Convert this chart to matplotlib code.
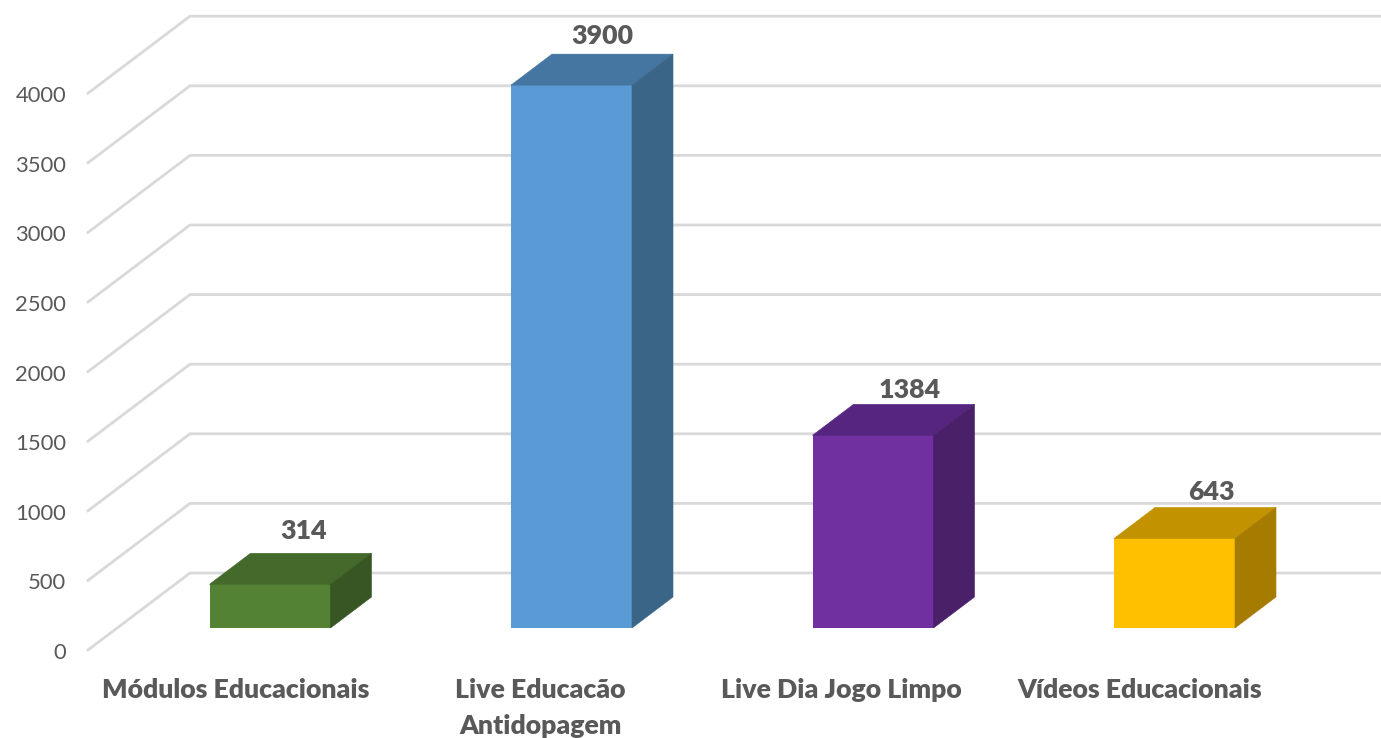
import matplotlib
matplotlib.use("Agg")
import matplotlib.pyplot as plt
from matplotlib.patches import Polygon, Rectangle

categories = ["Módulos Educacionais", "Live Educacão\nAntidopagem", "Live Dia Jogo Limpo", "Vídeos Educacionais"]
values = [314, 3900, 1384, 643]
ticks = [0, 500, 1000, 1500, 2000, 2500, 3000, 3500, 4000]
front_colors = ["#548235", "#5B9BD5", "#7030A0", "#FFC000"]
top_colors = ["#436A2A", "#4575A1", "#552580", "#C29200"]
side_colors = ["#375623", "#3A6587", "#4A2069", "#A67C00"]

W, H = 1381, 738
PX_X = 301.5          # pixels per category
PX_Y = 0.1392         # pixels per value unit
X0, Y0 = 270, 628     # pixel of category 0, value 0

fig = plt.figure(figsize=(W / 100, H / 100), dpi=100)
ax = fig.add_axes([0, 0, 1, 1])
ax.set_xlim(-X0 / PX_X, (W - X0) / PX_X)
ax.set_ylim((Y0 - H) / PX_Y, Y0 / PX_Y)
ax.axis("off")

bar_w = 121 / PX_X
dx, dy = 41 / PX_X, 31 / PX_Y          # bar depth
wall_dx, wall_dy = 102 / PX_X, 77 / PX_Y  # floor depth
left_x = (88 - X0) / PX_X
front_off = -22 / PX_Y                  # front edge of the floor
right_x = (W - X0) / PX_X
grid_c = "#D9D9D9"
text_c = "#595959"

for t in ticks:
    y0 = t + front_off
    ax.plot([left_x, left_x + wall_dx, right_x], [y0, y0 + wall_dy, y0 + wall_dy],
            color=grid_c, lw=2.0, solid_joinstyle="miter", zorder=1)
    ax.annotate(str(t), (left_x, y0), xytext=(-22, -3), textcoords="offset pixels",
                ha="right", va="center", color=text_c, fontsize=15.8, family="Lato")

value_dx = [-7, -10, -4, -4]
value_dy = [22, 18, 14, 15]
name_dx = [-34, -31, -32, -35]
name_y = [690, 708, 690, 690]
for i, (v, name) in enumerate(zip(values, categories)):
    l, r = i - bar_w / 2, i + bar_w / 2
    ax.add_patch(Rectangle((l, 0), bar_w, v, fc=front_colors[i], ec="none", zorder=3))
    ax.add_patch(Polygon([(l, v), (r, v), (r + dx, v + dy), (l + dx, v + dy)],
                         fc=top_colors[i], ec=top_colors[i], lw=0.4, zorder=3))
    ax.add_patch(Polygon([(r, 0), (r + dx, dy), (r + dx, v + dy), (r, v)],
                         fc=side_colors[i], ec=side_colors[i], lw=0.4, zorder=3))
    ax.annotate(str(v), (i + dx, v + dy), xytext=(value_dx[i], value_dy[i]), textcoords="offset pixels",
                ha="center", va="center", color=text_c, fontsize=19.3, fontweight="heavy",
                family="Lato", zorder=4)
    ax.annotate(name, (i, (Y0 - name_y[i]) / PX_Y), xytext=(name_dx[i], 0), textcoords="offset pixels",
                ha="center", va="center", color=text_c, fontsize=19.2, fontweight="heavy",
                family="Lato", linespacing=1.56)

fig.savefig("out.png", dpi=100)
